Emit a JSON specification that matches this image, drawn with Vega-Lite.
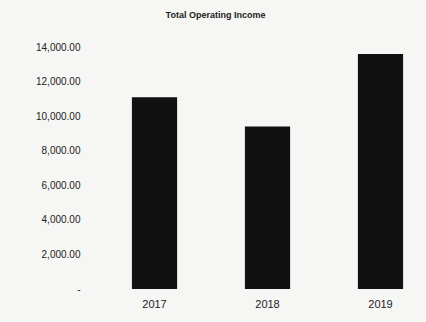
{
  "$schema": "https://vega.github.io/schema/vega-lite/v6.json",
  "autosize": {"type": "none"},
  "padding": {"left": 98, "top": 47, "right": 0, "bottom": 33},
  "width": 339,
  "height": 242,
  "background": "#f6f6f4",
  "title": {
    "text": "Total Operating Income",
    "fontSize": 9,
    "fontWeight": "bold",
    "font": "Liberation Sans",
    "color": "#222",
    "anchor": "middle",
    "dx": -52,
    "offset": 22
  },
  "data": {
    "values": [
      {"year": "2017", "income": 11100},
      {"year": "2018", "income": 9400},
      {"year": "2019", "income": 13600}
    ]
  },
  "mark": {"type": "bar", "color": "#111111"},
  "encoding": {
    "x": {
      "field": "year",
      "type": "nominal",
      "scale": {"paddingInner": 0.6, "paddingOuter": 0.3},
      "axis": {
        "title": null,
        "labelAngle": 0,
        "domain": false,
        "ticks": false,
        "labelFont": "Liberation Sans",
        "labelFontSize": 11,
        "labelColor": "#222",
        "labelPadding": 9
      }
    },
    "y": {
      "field": "income",
      "type": "quantitative",
      "scale": {"domain": [0, 14000]},
      "axis": {
        "title": null,
        "values": [0, 2000, 4000, 6000, 8000, 10000, 12000, 14000],
        "labelExpr": "datum.value == 0 ? '-' : format(datum.value, ',.2f')",
        "grid": false,
        "domain": false,
        "ticks": false,
        "labelFont": "Liberation Sans",
        "labelFontSize": 10,
        "labelColor": "#222",
        "labelPadding": 18
      }
    }
  },
  "config": {"view": {"stroke": null}}
}
